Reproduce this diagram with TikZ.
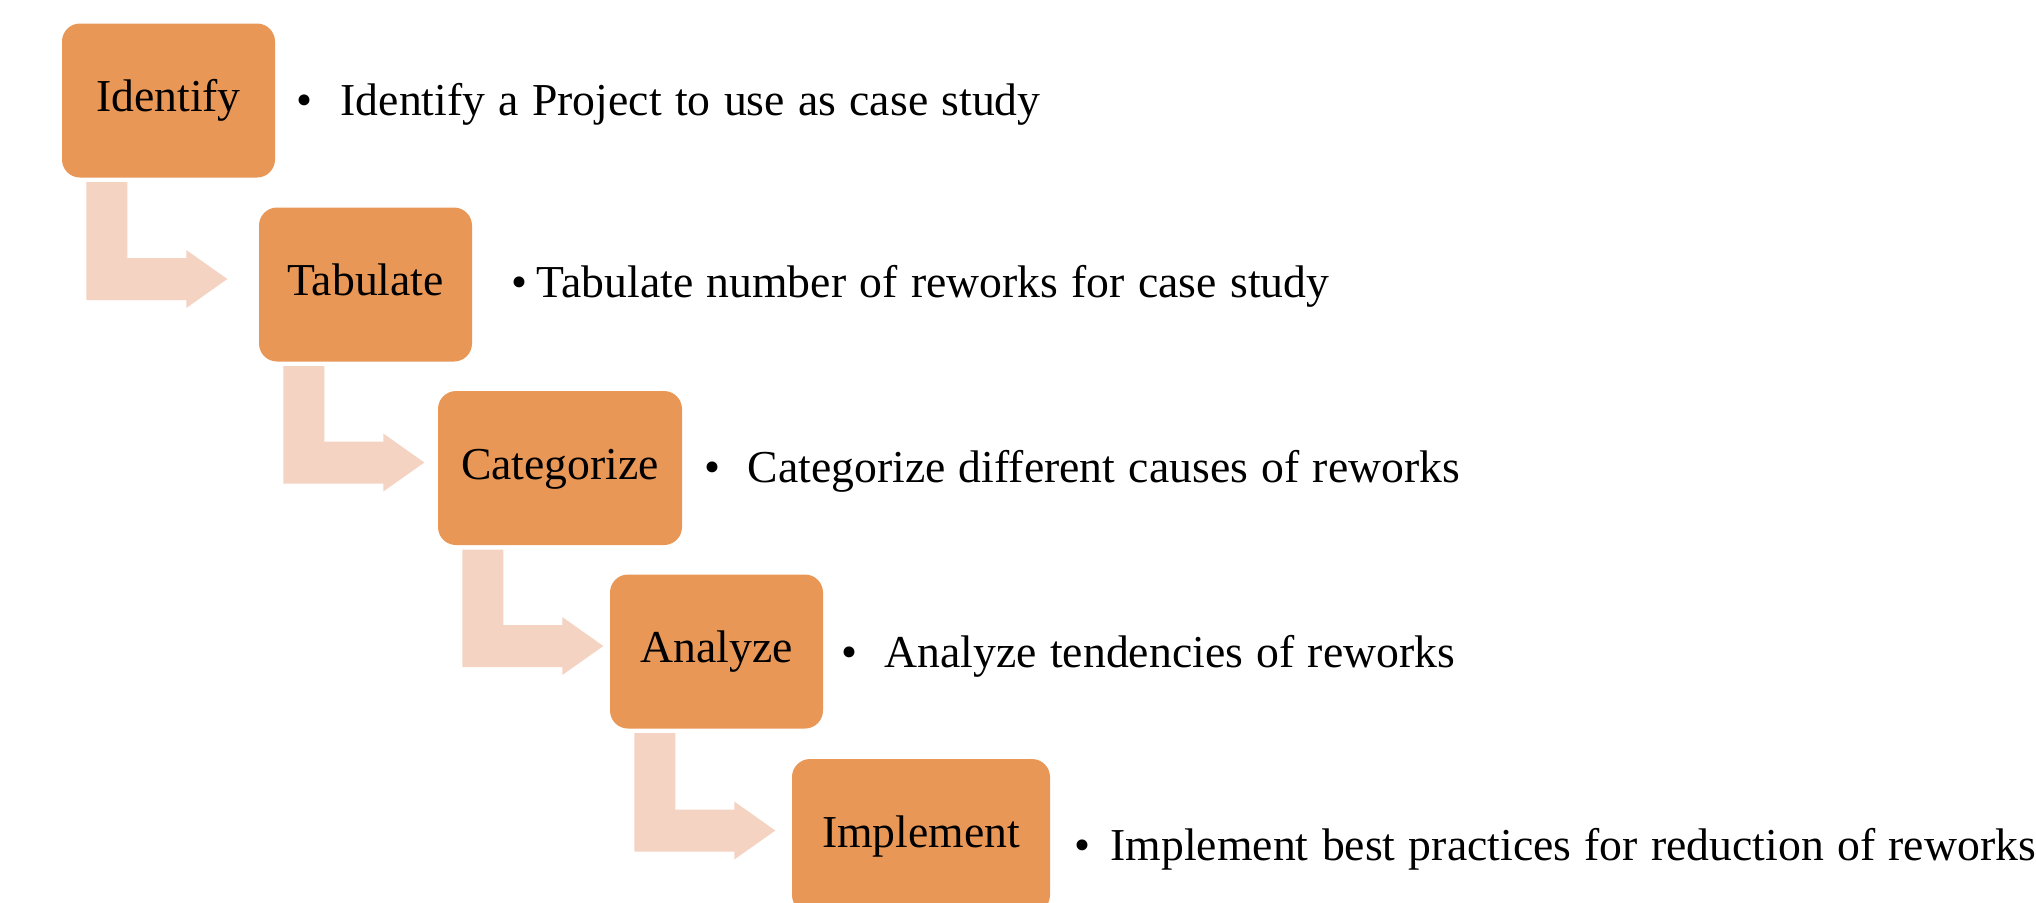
\documentclass[tikz,border=0pt]{standalone}
\usepackage{fontspec}
\setmainfont{Liberation Serif}
\usetikzlibrary{positioning, calc}

\definecolor{boxorange}{HTML}{E89757}
\definecolor{arrowpeach}{HTML}{F4D3C3}

\newcommand{\descfont}{\fontsize{13}{15}\selectfont\spaceskip 3.8pt\relax}

\tikzset{
    stepbox/.style={rectangle, rounded corners=0.18cm, fill=boxorange,
        minimum width=2.13cm, minimum height=1.54cm, inner sep=0pt,
        text height=0.86em, text depth=0.22em,
        font=\fontsize{13}{15}\selectfont},
    desc/.style={anchor=base west, inner sep=0pt, font=\descfont},
    bentarrow/.style={fill=arrowpeach}
}

\begin{document}
\begin{tikzpicture}[]
        \useasboundingbox (0,0) rectangle (20.36,-9.02);

        % step boxes
        \node[stepbox] (ident) at (1.685,-1.005) {Identify};
        \node[stepbox] (tab) at (3.655,-2.845) {Tabulate};
        \node[stepbox, minimum width=2.44cm] (cat) at (5.60,-4.68) {Categorize};
        \node[stepbox] (ana) at (7.165,-6.515) {Analyze};
        \node[stepbox, minimum width=2.58cm] (impl) at (9.21,-8.36) {Implement};

        % bent arrows from one box to the next
        \foreach \src/\dst in {ident/tab, tab/cat, cat/ana, ana/impl}
        {
            \fill[bentarrow]
                let \p1 = (\src.south west), \p2 = (\dst.west)
                in
                (\x1+0.25cm, \y1-0.04cm) -- (\x1+0.66cm, \y1-0.04cm)
                -- (\x1+0.66cm, \y2+0.265cm) -- (\x1+1.25cm, \y2+0.265cm)
                -- (\x1+1.25cm, \y2+0.345cm) -- (\x1+1.66cm, \y2+0.055cm)
                -- (\x1+1.25cm, \y2-0.235cm) -- (\x1+1.25cm, \y2-0.155cm)
                -- (\x1+0.25cm, \y2-0.155cm) -- cycle;
        }

        % descriptions
        \node[desc] (identtxt) at (2.96,-1.15) {\textbullet\hspace{0.28cm}Identify a Project to use as case study};
        \node[desc] (tabtxt) at (5.11,-2.97) {\textbullet\hspace{0.09cm}Tabulate number of reworks for case study};
        \node[desc] (cattxt) at (7.04,-4.82) {\textbullet\hspace{0.27cm}Categorize different causes of reworks};
        \node[desc] (anatxt) at (8.41,-6.67) {\textbullet\hspace{0.27cm}Analyze tendencies of reworks};
        \node[desc] (impltxt) at (10.74,-8.60) {\textbullet\hspace{0.20cm}Implement best practices for reduction of reworks};
    \end{tikzpicture}
\end{document}
